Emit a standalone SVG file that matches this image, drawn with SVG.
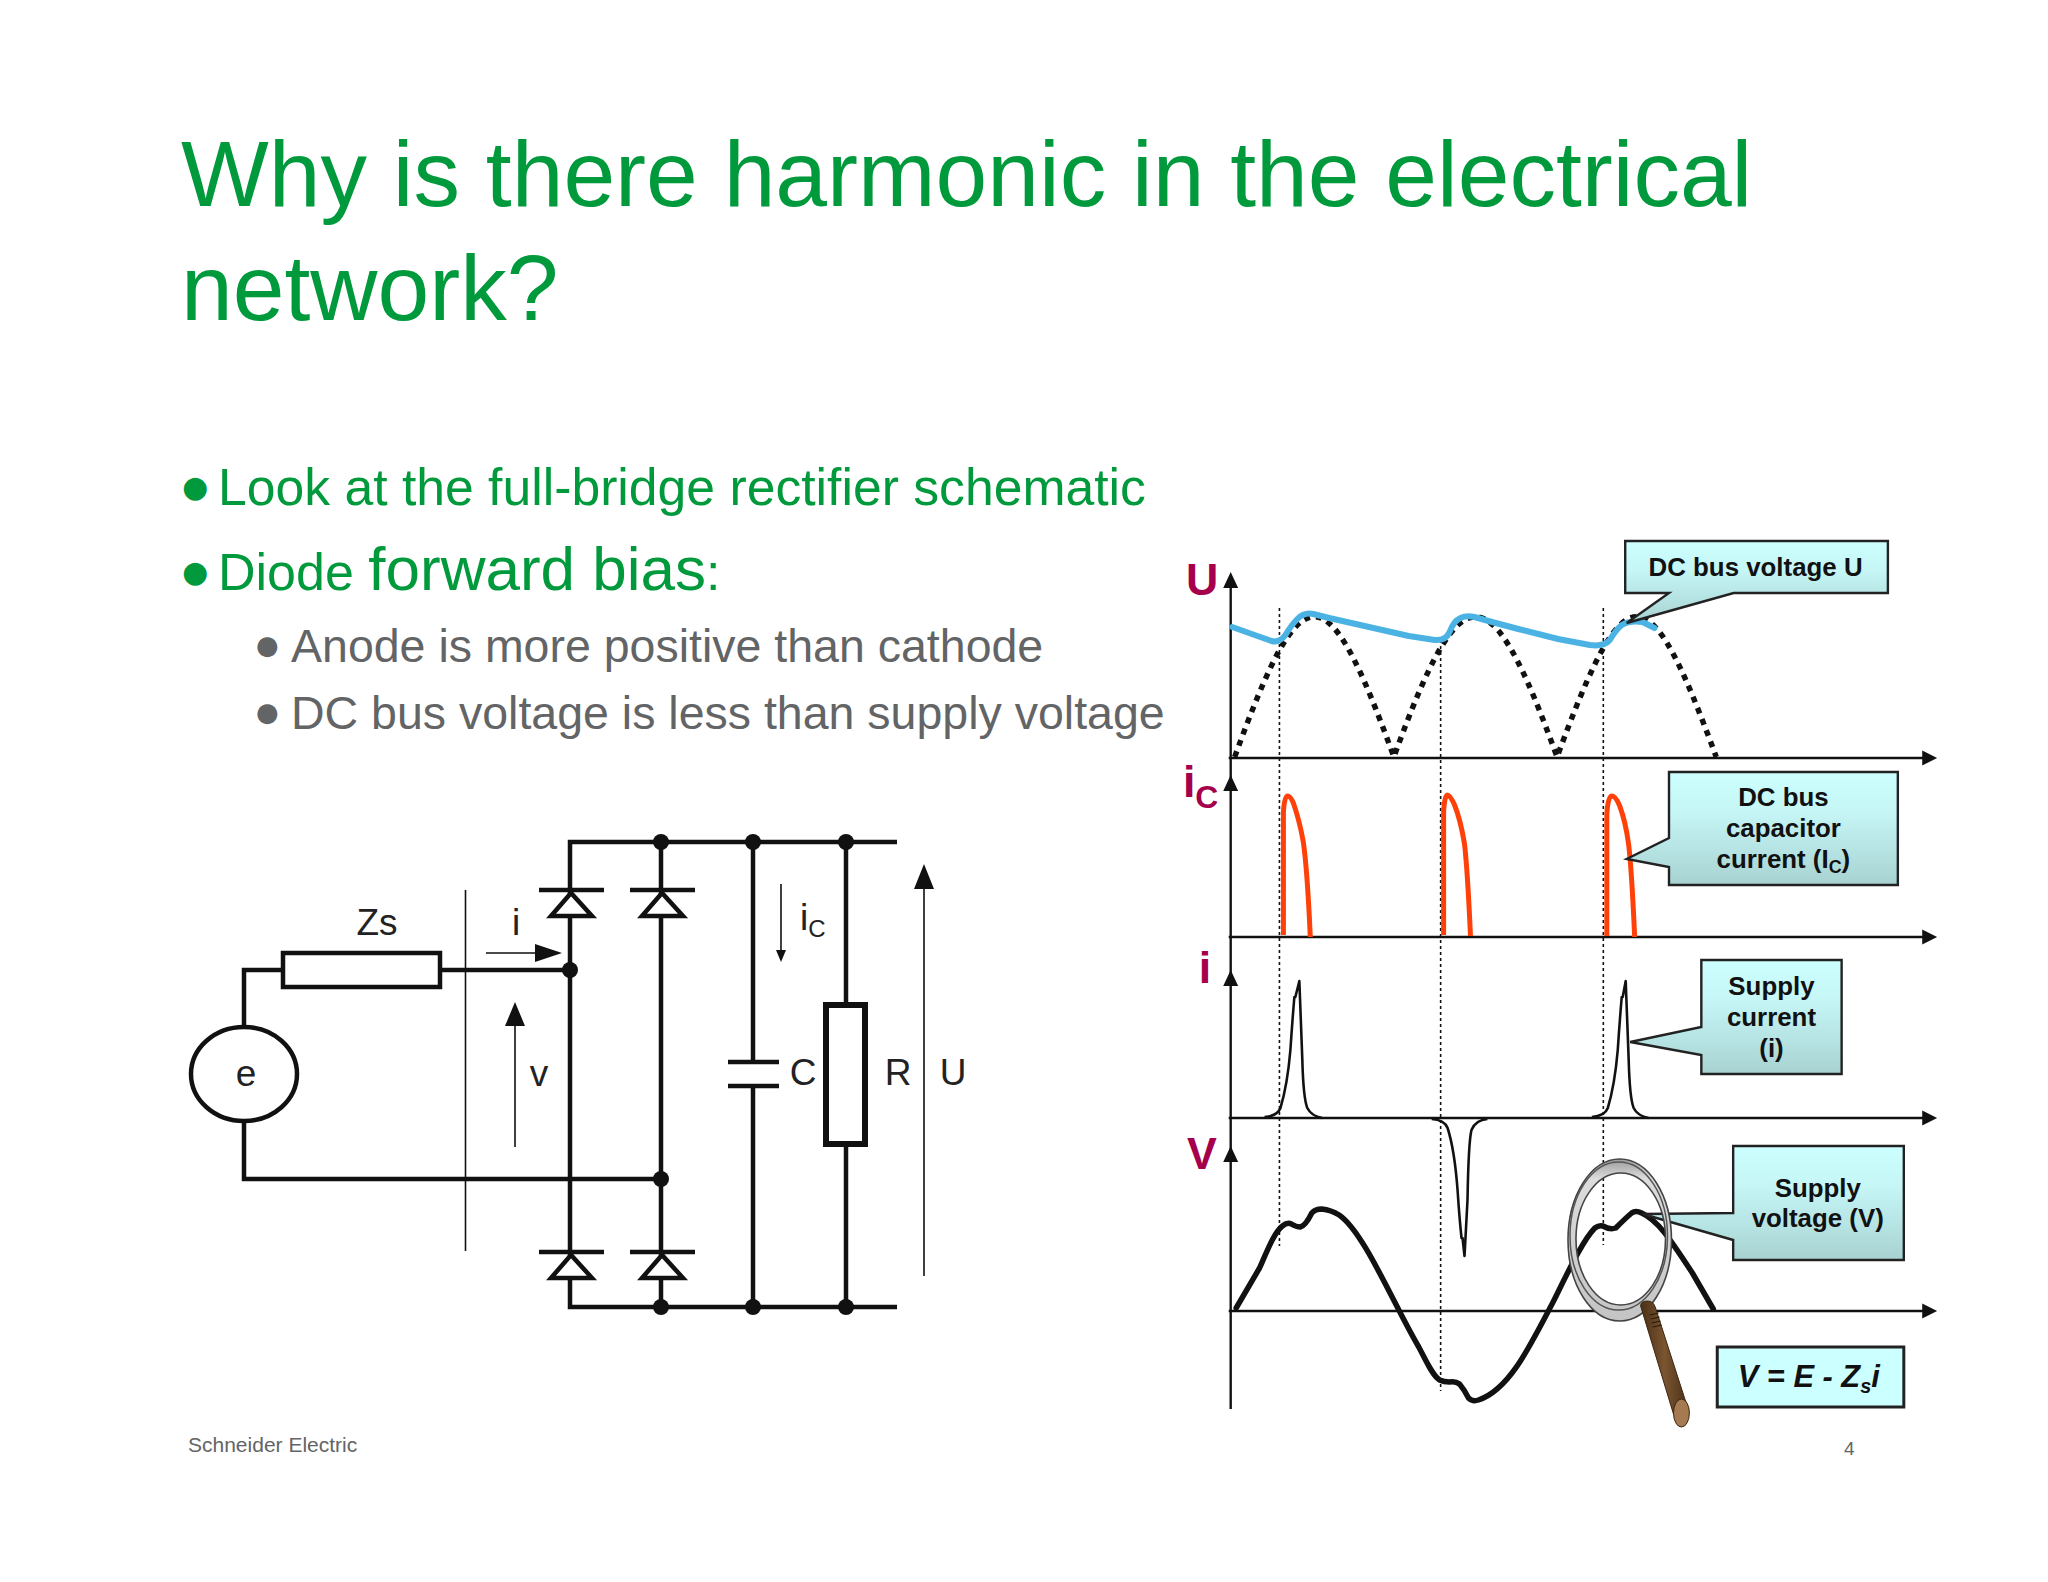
<svg xmlns="http://www.w3.org/2000/svg" width="2048" height="1582" viewBox="0 0 2048 1582">
<style>
text{font-family:"Liberation Sans",Arial,sans-serif}
.g{fill:#009A3D}
.s{fill:#636466}
.b{font-family:"DejaVu Sans",sans-serif}
.w{fill:none;stroke:#111;stroke-width:4.5}
.t{fill:none;stroke:#111;stroke-width:1.6}
.sc{font-size:37px;fill:#222}
.k{fill:#111}
.ax{fill:none;stroke:#111;stroke-width:2.4}
.dot{fill:none;stroke:#111;stroke-width:1.6;stroke-dasharray:3 3}
.arch{fill:none;stroke:#111;stroke-width:5.500;stroke-dasharray:6 6}
.red{fill:none;stroke:#FF4008;stroke-width:5;stroke-linejoin:round}
.thin{fill:none;stroke:#111;stroke-width:2.6;stroke-linejoin:round}
.lab{font-weight:bold;fill:#A6004C;font-size:45px}
.c{fill:url(#cg);stroke:#222;stroke-width:2.4;stroke-linejoin:miter}
.ct{font-weight:bold;font-size:26px;fill:#111;text-anchor:middle}
</style>
<defs>
<linearGradient id="cg" x1="0" y1="0" x2="0" y2="1"><stop offset="0" stop-color="#CCFFFF"/><stop offset="0.35" stop-color="#C6F6F6"/><stop offset="1" stop-color="#A8D2D2"/></linearGradient>
<linearGradient id="ring" x1="0" y1="0" x2="0" y2="1"><stop offset="0" stop-color="#9a9a9a"/><stop offset="0.12" stop-color="#dcdcdc"/><stop offset="1" stop-color="#c4c4c4"/></linearGradient>
<linearGradient id="wood" x1="0" y1="0" x2="1" y2="0"><stop offset="0" stop-color="#4a3018"/><stop offset="0.5" stop-color="#7a5530"/><stop offset="1" stop-color="#4a3018"/></linearGradient>
<g id="diode"><path d="M-32 0H33" class="w"/><path d="M0 3 L-20 26 H21 Z" fill="#fff" stroke="#111" stroke-width="4.5"/></g>
</defs>
<rect width="2048" height="1582" fill="#fff"/>

<g id="title"><text class="g" x="181" y="206" font-size="93">Why is there harmonic in the electrical</text><text class="g" x="181" y="320" font-size="93">network?</text></g>
<g id="bullets">
<text class="g b" x="182" y="497" font-size="30">●</text><text class="g" x="218" y="505" font-size="51.700">Look at the full-bridge rectifier schematic</text>
<text class="g b" x="182" y="582" font-size="30">●</text><text class="g" x="218" y="590" font-size="52">Diode <tspan font-size="62">forward bias</tspan>:</text>
<text class="s b" x="256" y="654" font-size="26">●</text><text class="s" x="291" y="662" font-size="46.500">Anode is more positive than cathode</text>
<text class="s b" x="256" y="721" font-size="26">●</text><text class="s" x="291" y="729" font-size="46.500">DC bus voltage is less than supply voltage</text>
</g>
<g id="footer"><text class="s" x="188" y="1452" font-size="21">Schneider Electric</text><text class="s" x="1844" y="1455" font-size="19">4</text></g>

<g id="connectors">
<path class="w" d="M897 842H570V1307H897M661 842V1307M753 842V1062M753 1086V1307M846 842V1003M846 1145V1307"/>
<path class="w" d="M244 1027V970H282M441 970H570M244 1122V1179H661"/>
<path class="t" d="M465.500 890V1251M486 953H536M515 1147V1025M781 884V952M924 1276V888"/>
<path class="k" d="M562 953L535 944V962ZM515 1002L505 1026H525ZM781 962L776 950H786ZM924 864L914 889H934Z"/>
</g>
<g id="junctions" class="k"><circle cx="570" cy="970" r="8"/><circle cx="661" cy="842" r="8"/><circle cx="753" cy="842" r="8"/><circle cx="846" cy="842" r="8"/><circle cx="661" cy="1179" r="8"/><circle cx="661" cy="1307" r="8"/><circle cx="753" cy="1307" r="8"/><circle cx="846" cy="1307" r="8"/></g>
<g id="diodes"><use href="#diode" x="571" y="890"/><use href="#diode" x="662" y="890"/><use href="#diode" x="571" y="1252"/><use href="#diode" x="662" y="1252"/></g>
<g id="source-e"><ellipse cx="244" cy="1074" rx="53" ry="47" fill="#fff" stroke="#111" stroke-width="4.500"/><text class="sc" x="246" y="1086" text-anchor="middle">e</text></g>
<g id="impedance-zs"><rect x="283" y="953" width="157" height="34" fill="#fff" stroke="#111" stroke-width="4.500"/><text class="sc" x="377" y="935" text-anchor="middle">Zs</text></g>
<g id="labels"><text class="sc" x="800" y="930">i<tspan font-size="24" dy="7">C</tspan></text><text class="sc" x="516" y="935" text-anchor="middle">i</text><text class="sc" x="539" y="1086" text-anchor="middle">v</text></g>
<g id="capacitor"><path d="M728 1062H779M728 1086H779" class="w"/><text class="sc" x="803" y="1085" text-anchor="middle">C</text></g>
<g id="resistor"><rect x="826" y="1005" width="39" height="139" fill="#fff" stroke="#111" stroke-width="6"/><text class="sc" x="898" y="1085" text-anchor="middle">R</text><text class="sc" x="953" y="1085" text-anchor="middle">U</text></g>

<g id="graph" transform="translate(5.850 0) scale(0.995 1)">
<g id="axes">
<path class="ax" d="M1231 585V1409M1229 758H1930M1229 937H1930M1229 1118H1930M1229 1311H1930"/>
<path class="k" d="M1231 572l-7.500 16h15zM1231 775l-7.500 16h15zM1231 970l-7.500 16h15zM1231 1146l-7.500 16h15zM1941 758l-15 -7.500v15zM1941 937l-15 -7.500v15zM1941 1118l-15 -7.500v15zM1941 1311l-15 -7.500v15z"/>
<path class="dot" d="M1280 608V1246M1442 640V1391M1605.500 608V1245"/>
</g>
<g id="waveforms">
<path class="arch" d="M1235 757C1303 570 1327 570 1395 757C1463 570 1491 570 1559 757C1628 570 1650 570 1719 757"/>
<path fill="none" stroke="#4BB3E4" stroke-width="6" stroke-linejoin="round" stroke-linecap="round" d="M1232.500 627L1255 635L1272 641Q1280 643 1286 635Q1292 625 1298 619Q1305 612 1314 614L1330 618L1370 627L1410 636L1436 640Q1447 641 1451 632Q1455 621 1462 618Q1468 615 1476 617L1490 621L1520 629L1560 639L1592 645Q1606 647 1612 640Q1618 630 1624 625Q1632 620 1645 622L1657 628"/>
<path class="red" d="M1284 935V812Q1285 796 1288 796Q1291 796 1294 803Q1300 820 1304 842Q1308 870 1311 937"/>
<path class="red" d="M1445 935V812Q1446 795 1449 795Q1452 796 1456 805Q1462 820 1466 844Q1469 870 1472 936"/>
<path class="red" d="M1609 936V815Q1610 796 1614 796Q1618 796 1622 806Q1628 822 1631 845Q1634 870 1637 937"/>
<path class="thin" d="M1265 1117Q1278 1116 1281 1108Q1288 1085 1291 1050Q1293 1020 1295 997L1296 997L1300 981L1303 1060Q1304 1098 1308 1108Q1312 1116 1323 1118"/>
<path class="thin" d="M1594 1117Q1607 1116 1610 1108Q1617 1085 1620 1050Q1622 1020 1624 997L1625 997L1628 981L1631 1060Q1632 1098 1636 1108Q1640 1116 1651 1118"/>
<path class="thin" d="M1433 1119Q1446 1120 1449 1128Q1456 1150 1459 1190Q1461 1220 1463 1238L1464 1238L1466 1256L1469 1200Q1470 1142 1473 1130Q1477 1120 1489 1119"/>
<path fill="none" stroke="#111" stroke-width="5.500" stroke-linejoin="round" stroke-linecap="round" d="M1236.500 1308L1260 1268C1268 1250 1275 1232 1283 1226Q1288 1222 1292 1224Q1297 1227 1301 1227Q1306 1226 1312.500 1213Q1316 1209 1322.500 1209Q1332 1210 1340 1215C1365 1232 1395 1305 1420 1347C1428 1362 1434 1376 1441 1380Q1445 1382 1451 1382Q1457 1381 1461 1384Q1466 1390 1470 1398Q1474 1402 1480 1400C1510 1390 1530 1350 1555 1302C1570 1272 1585 1240 1597 1228Q1601 1225 1605 1226Q1612 1230 1618 1228Q1628 1218 1634 1213Q1638 1210 1644 1213C1660 1220 1672 1238 1695 1273L1716 1309"/>
</g>
<g id="axis-labels">
<text class="lab" x="1186" y="595">U</text>
<text class="lab" x="1183" y="797">i<tspan font-size="32" dy="11">C</tspan></text>
<text class="lab" x="1199" y="983">i</text>
<text class="lab" x="1187" y="1169">V</text>
</g>
<g id="callout-u"><path class="c" d="M1627.500 541H1891.500V593H1736.500L1629 623L1671.500 593H1627.500Z"/><text class="ct" x="1758.500" y="576">DC bus voltage U</text></g>
<g id="callout-ic"><path class="c" d="M1671.500 772H1901.500V885H1671.500V867L1629 859L1671.500 838Z"/><text class="ct" x="1786.500" y="806">DC bus</text><text class="ct" x="1786.500" y="837">capacitor</text><text class="ct" x="1786.500" y="868">current (I<tspan font-size="18" dy="5">C</tspan><tspan dy="-5">)</tspan></text></g>
<g id="callout-i"><path class="c" d="M1704 960H1845V1074H1704V1055L1632.500 1042L1704 1027Z"/><text class="ct" x="1774.500" y="995">Supply</text><text class="ct" x="1774.500" y="1026">current</text><text class="ct" x="1774.500" y="1057">(i)</text></g>
<g id="callout-v"><path class="c" d="M1736 1146H1907.500V1260H1736V1240L1645 1214L1736 1213Z"/><text class="ct" x="1821" y="1197">Supply</text><text class="ct" x="1821" y="1227">voltage (V)</text></g>
<g id="formula"><rect x="1720" y="1347" width="187.500" height="60" fill="#CCFFFF" stroke="#222" stroke-width="3"/><text x="1812" y="1387" text-anchor="middle" font-weight="bold" font-style="italic" font-size="31" fill="#111">V = E - Z<tspan font-size="20" dy="6">s</tspan><tspan dy="-6">i</tspan></text></g>
<g id="magnifier">
<path fill="url(#ring)" fill-rule="evenodd" stroke="#444" stroke-width="1.600" d="M1570 1240a52 81 0 1 0 104 0a52 81 0 1 0 -104 0ZM1578 1239a45 66 0 1 0 90 0a45 66 0 1 0 -90 0Z"/>
<ellipse cx="1621" cy="1236" rx="49" ry="74" fill="none" stroke="#555" stroke-width="1.500"/>
<path fill="url(#wood)" stroke="#3a2510" stroke-width="1" d="M1643 1306Q1643 1301 1650 1301Q1656 1301 1658 1308L1691 1410L1676 1414Z"/>
<path d="M1652 1315l9 -2M1653 1319l9 -2M1654 1323l9 -2M1655 1327l9 -2" stroke="#2a1a0a" stroke-width="1.200" fill="none"/>
<ellipse cx="1684" cy="1413" rx="8" ry="14" fill="#A57A50" stroke="#3a2510" stroke-width="1"/>
</g>
</g>
</svg>
